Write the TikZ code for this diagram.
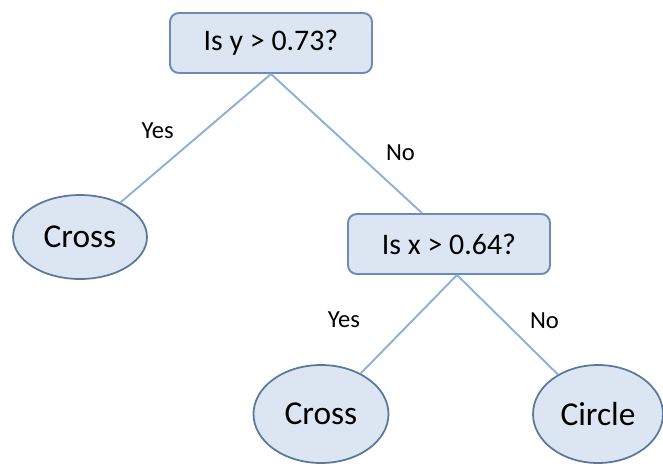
\documentclass[tikz,border=0pt]{standalone}
\usepackage{fontspec}
\setmainfont{Carlito}
\usepackage{xcolor}
\usetikzlibrary{shapes, positioning}
\definecolor{boxfill}{HTML}{DCE6F2}
\definecolor{boxline}{HTML}{6A8DB8}
\definecolor{edgeline}{HTML}{8EB1D8}
\tikzset{
  test/.style={
    draw=boxline,
    fill=boxfill,
    line width=1.1pt,
    rounded corners=5pt,
    minimum width=4.04cm,
    minimum height=1.2cm,
    font=\fontsize{17}{20}\selectfont},
  leaf/.style={
    ellipse,
    draw=boxline!85!black,
    fill=boxfill,
    line width=1pt,
    minimum width=2.7cm,
    minimum height=1.9cm,
    font=\fontsize{19}{22}\selectfont},
  branch/.style={
    draw=edgeline,
    line width=1.1pt,
    font=\fontsize{14}{16}\selectfont}
  }

\begin{document}
\begin{tikzpicture}[x=0.02cm, y=-0.02cm]
		\useasboundingbox (0,0) rectangle (663,468);
		\node [test] (root) at (271,43) {Is y > 0.73?};
		\node [leaf, minimum width=2.68cm, minimum height=1.68cm] (crossa) at (80,237) {Cross};
		\node [test] (split) at (449,244) {Is x > 0.64?};
		\node [leaf, minimum height=1.96cm] (crossb) at (321,414) {Cross};
		\node [leaf, minimum width=2.6cm, minimum height=1.96cm] (circ) at (598,414) {Circle};
		\draw [branch] (root.south) to node [xshift=-0.76cm, yshift=0.16cm] {Yes} (crossa);
		\draw [branch] (root.south) to node [xshift=1.08cm, yshift=-0.18cm] {No} ([xshift=-0.54cm]split.north);
		\draw [branch] ([xshift=0.16cm]split.south) to node [xshift=-1.3cm, yshift=0.08cm] {Yes} (crossb);
		\draw [branch] ([xshift=0.16cm]split.south) to node [xshift=0.74cm, yshift=0.08cm] {No} (circ);
	\end{tikzpicture}
\end{document}
